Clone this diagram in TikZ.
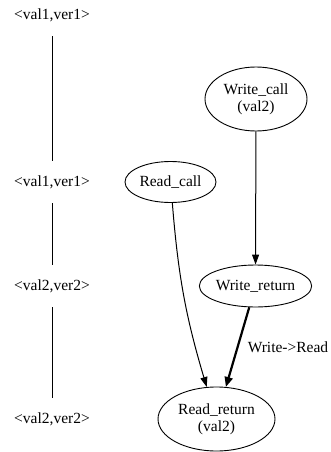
\documentclass[tikz,border=0pt]{standalone}
\usepackage{fontspec}
\setmainfont{Liberation Serif}
\usetikzlibrary{shapes.geometric,arrows.meta}

\begin{document}
\begin{tikzpicture}
[
	x=1pt,y=-1pt,
	every node/.style={font=\fontsize{15.5pt}{17pt}\selectfont},
	state/.style={inner sep=0pt,minimum height=42pt},
	event/.style={ellipse,draw,inner sep=0pt,line width=0.9pt},
	order/.style={line width=1pt,-{Triangle[length=10pt,width=7pt]}},
	strong/.style={line width=2.2pt,-{Triangle[length=10pt,width=8pt]}}
]
	\useasboundingbox (0,0) rectangle (331,452);

	\node[state] at (52,15) (s1) {<val1,ver1>};
	\node[state] at (52,182) (s2) {<val1,ver1>};
	\node[state] at (52,286) (s3) {<val2,ver2>};
	\node[state] at (52,419) (s4) {<val2,ver2>};

	\draw[line width=0.9pt] (s1) -- (s2);
	\draw[line width=0.9pt] (s2) -- (s3);
	\draw[line width=0.9pt] (s3) -- (s4);

	\node[event,minimum width=102pt,minimum height=64pt,align=center] at (256,99) (wc) {Write\_call\\(val2)};
	\node[event,minimum width=91pt,minimum height=41pt] at (170.5,182) (rc) {Read\_call};
	\node[event,minimum width=109pt,minimum height=42pt] at (255.5,286) (wr) {Write\_return};
	\node[event,minimum width=117pt,minimum height=64pt,align=center] at (216.5,419) (rr) {Read\_return\\(val2)};

	\draw[order] (wc) -- (wr);
	\draw[order] (rc) to[bend right=6] (rr);
	\draw[strong] (wr) -- (rr);
	\node at (288,347) (lbl) {Write->Read};

\end{tikzpicture}
\end{document}
